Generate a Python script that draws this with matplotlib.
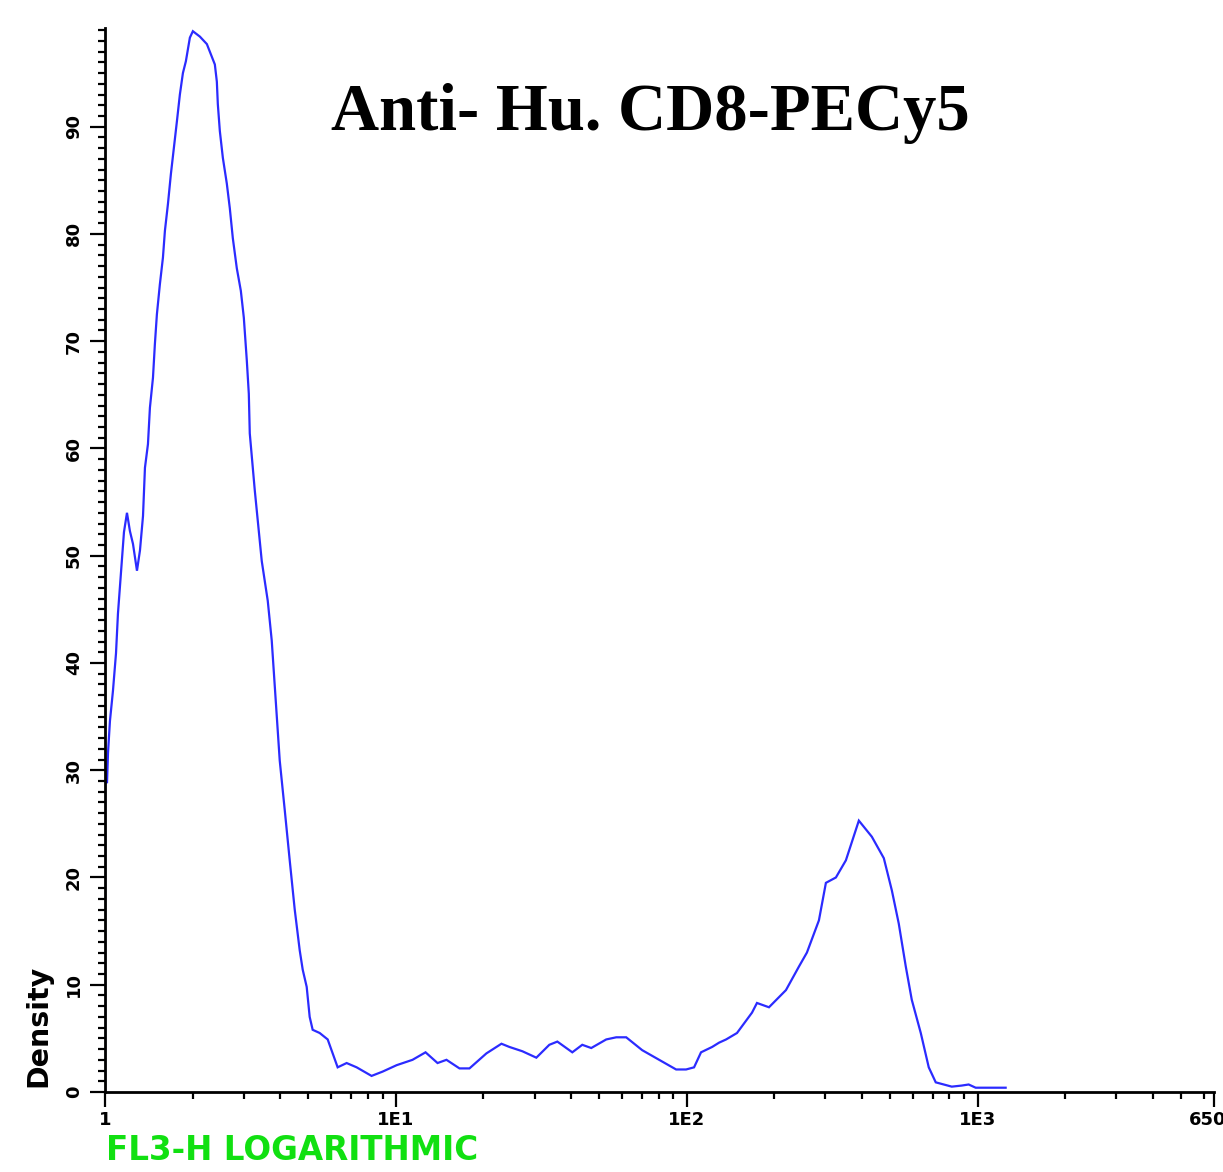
import matplotlib
matplotlib.use("Agg")
import matplotlib.pyplot as plt
from matplotlib.ticker import FixedLocator, NullFormatter

# ---- data ----
fl3_h = [1.00, 1.00, 1.016, 1.024, 1.040, 1.065, 1.091, 1.108, 1.135, 1.162, 1.190,
         1.218, 1.248, 1.288, 1.319, 1.351, 1.372, 1.405, 1.427, 1.462, 1.484, 1.508,
         1.544, 1.582, 1.607, 1.646, 1.685, 1.725, 1.767, 1.809, 1.853, 1.897, 1.958,
         2.005, 2.119, 2.240, 2.386, 2.424, 2.443, 2.482, 2.542, 2.623, 2.686, 2.751,
         2.839, 2.931, 3.001, 3.073, 3.122, 3.146, 3.273, 3.459, 3.627, 3.743, 3.864,
         3.988, 4.149, 4.316, 4.491, 4.672, 4.784, 4.937, 5.055, 5.176, 5.472, 5.830,
         6.064, 6.308, 6.773, 7.332, 8.251, 9.002, 10.06, 11.41, 12.65, 13.91, 14.93,
         16.55, 17.91, 20.48, 23.07, 24.57, 27.22, 30.41, 33.70, 35.91, 40.43, 43.74,
         46.97, 52.88, 57.24, 61.94, 70.30, 80.40, 91.96, 99.5, 106.0, 112.0, 122.3,
         129.2, 136.6, 148.9, 167.7, 174.4, 191.8, 219.4, 243.2, 259.0, 284.8, 301.0,
         325.8, 352.6, 390.7, 433.0, 476.1, 507.3, 535.9, 566.5, 594.0, 637.9, 679.5,
         718.2, 765.3, 815.3, 882.1, 932.0, 985.1, 1249.0]
density = [0.0, 29.1, 28.8, 31.6, 34.6, 37.4, 40.9, 44.6, 48.4, 52.2, 54.0,
           52.3, 51.1, 48.6, 50.5, 53.7, 58.2, 60.4, 63.8, 66.6, 69.7, 72.5,
           75.3, 77.8, 80.3, 82.8, 85.6, 88.0, 90.5, 93.0, 95.0, 96.1, 98.3,
           98.9, 98.4, 97.7, 95.8, 94.2, 92.1, 89.6, 87.1, 84.7, 82.4, 79.6,
           76.8, 74.7, 72.2, 68.2, 65.1, 61.4, 56.1, 49.5, 45.8, 42.1, 36.5,
           30.9, 26.3, 21.6, 17.0, 13.2, 11.4, 9.8, 7.0, 5.8, 5.5, 4.9,
           3.6, 2.3, 2.7, 2.3, 1.5, 1.9, 2.5, 3.0, 3.7, 2.7, 3.0,
           2.2, 2.2, 3.6, 4.5, 4.2, 3.8, 3.2, 4.4, 4.7, 3.7, 4.4,
           4.1, 4.9, 5.1, 5.1, 3.9, 3.0, 2.1, 2.1, 2.3, 3.7, 4.2,
           4.6, 4.9, 5.5, 7.4, 8.3, 7.9, 9.5, 11.7, 13.0, 16.0, 19.5,
           20.0, 21.6, 25.3, 23.8, 21.8, 18.8, 15.7, 11.7, 8.6, 5.5, 2.3,
           0.9, 0.7, 0.5, 0.6, 0.7, 0.4, 0.4]

x_major = [1, 10, 100, 1000, 6500]
x_major_labels = ["1", "1E1", "1E2", "1E3", "6500"]
x_minor = [2, 3, 4, 5, 6, 7, 8, 9, 20, 30, 40, 50, 60, 70, 80, 90,
           200, 300, 400, 500, 600, 700, 800, 900, 2000, 3000, 4000, 5000, 6000]
y_major = [0, 10, 20, 30, 40, 50, 60, 70, 80, 90]

title = "Anti- Hu. CD8-PECy5"
xlabel = "FL3-H LOGARITHMIC"
ylabel = "Density"

# ---- figure ----
W, H = 1223, 1172
fig = plt.figure(figsize=(W / 100, H / 100), dpi=100)
ax = fig.add_axes([105 / W, 1 - 1092 / H, (1214 - 105) / W, (1092 - 28) / H])

ax.plot(fl3_h, density, color="#2b2bff", lw=1.6, solid_joinstyle="miter")

ax.set_xscale("log")
ax.set_xlim(1, 6500)
ax.set_ylim(0, 99.2)

for s in ["top", "right"]:
    ax.spines[s].set_visible(False)
for s in ["left", "bottom"]:
    ax.spines[s].set_linewidth(2.0)
    ax.spines[s].set_color("black")

ax.xaxis.set_major_locator(FixedLocator(x_major))
ax.set_xticklabels(x_major_labels, fontweight="bold", fontsize=13)
ax.xaxis.set_minor_locator(FixedLocator(x_minor))
ax.xaxis.set_minor_formatter(NullFormatter())

ax.yaxis.set_major_locator(FixedLocator(y_major))
ax.set_yticklabels([str(v) for v in y_major], fontweight="bold", fontsize=13,
                   rotation=90, va="center")
ax.yaxis.set_minor_locator(FixedLocator([v for v in range(0, 100) if v % 10 != 0]))
ax.yaxis.set_minor_formatter(NullFormatter())

ax.tick_params(axis="both", which="major", length=11, width=1.6, direction="out",
               color="black", pad=3)
ax.tick_params(axis="both", which="minor", length=5, width=1.6, direction="out",
               color="black")
ax.tick_params(axis="y", which="major", pad=5)

fig.text(650 / W, 1 - 113 / H, title, family="Liberation Serif", fontweight="bold",
         fontsize=48, ha="center", va="center", color="black")
fig.text(38 / W, 1 - 1026 / H, ylabel, fontweight="heavy", fontsize=20.5,
         rotation=90, ha="center", va="center", color="black")
fig.text(106 / W, 1 - 1151 / H, xlabel, fontweight="heavy", fontsize=23.5,
         ha="left", va="center", color="#11e011")

fig.savefig("out.png", dpi=100)
